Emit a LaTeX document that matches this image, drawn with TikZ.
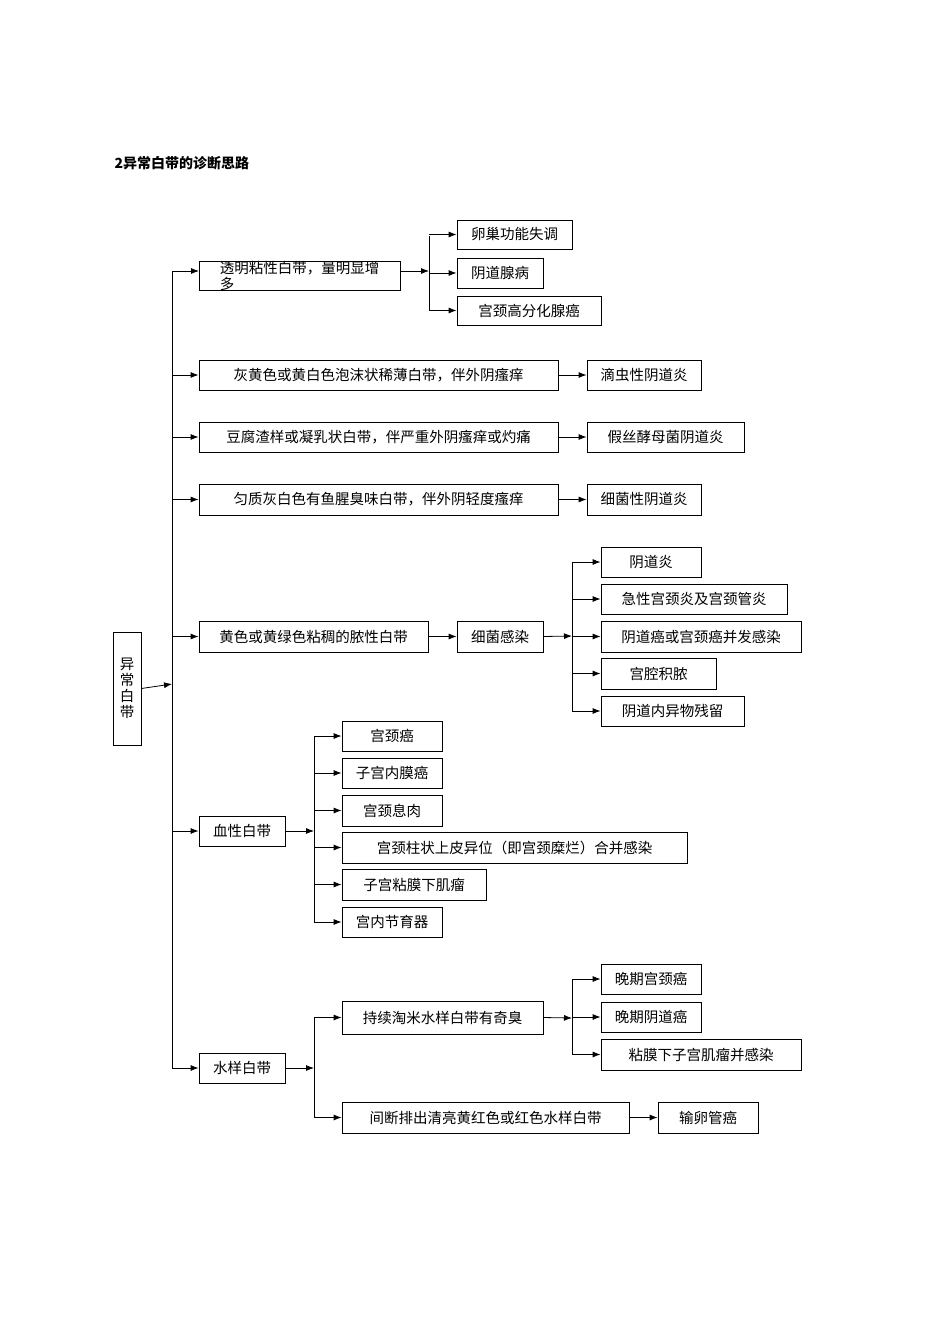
\documentclass[tikz,border=0pt]{standalone}
\usepackage{fontspec}
\newfontfamily\cjk{Noto Sans CJK SC}
\usetikzlibrary{arrows.meta}
\begin{document}
\begin{tikzpicture}[x=1pt,y=-1pt,
  box/.style={draw,line width=0.8pt,inner sep=0pt,font=\cjk\fontsize{14.5}{16}\selectfont},
  arr/.style={-{Latex[length=8pt,width=6pt]},line width=0.8pt},
  ln/.style={line width=0.8pt}]
\useasboundingbox (0,0) rectangle (950,1344);
\newcommand{\bx}[6]{\node[box,minimum width={#3-#2},minimum height={#5-#4},align=left] (#1) at ({(#2+#3)/2},{(#4+#5)/2}) {#6};}
\node[anchor=west,font=\cjk\bfseries\fontsize{14}{16}\selectfont] (title) at (111,163) {2异常白带的诊断思路};
\bx{root}{113}{141}{632}{745}{异\\常\\白\\带}
\bx{a1}{199}{400}{262}{290}{透明粘性白带，量明显增\\多}
\bx{a2}{199}{558}{360}{390}{灰黄色或黄白色泡沫状稀薄白带，伴外阴瘙痒}
\bx{a3}{199}{558}{422}{452}{豆腐渣样或凝乳状白带，伴严重外阴瘙痒或灼痛}
\bx{a4}{199}{558}{484}{515}{匀质灰白色有鱼腥臭味白带，伴外阴轻度瘙痒}
\bx{a5}{199}{428}{621}{652}{黄色或黄绿色粘稠的脓性白带}
\bx{a6}{199}{285}{816}{846}{血性白带}
\bx{a7}{199}{285}{1053}{1083}{水样白带}
\bx{b11}{457}{572}{220}{249}{卵巢功能失调}
\bx{b12}{457}{543}{258}{288}{阴道腺病}
\bx{b13}{457}{601}{296}{325}{宫颈高分化腺癌}
\bx{b2}{587}{701}{360}{390}{滴虫性阴道炎}
\bx{b3}{587}{744}{422}{452}{假丝酵母菌阴道炎}
\bx{b4}{587}{701}{484}{515}{细菌性阴道炎}
\bx{b5}{457}{543}{621}{652}{细菌感染}
\bx{c51}{601}{701}{547}{577}{阴道炎}
\bx{c52}{601}{787}{584}{614}{急性宫颈炎及宫颈管炎}
\bx{c53}{601}{801}{621}{652}{阴道癌或宫颈癌并发感染}
\bx{c54}{601}{716}{658}{689}{宫腔积脓}
\bx{c55}{601}{744}{696}{726}{阴道内异物残留}
\bx{b61}{342}{442}{721}{751}{宫颈癌}
\bx{b62}{342}{442}{758}{788}{子宫内膜癌}
\bx{b63}{342}{442}{795}{826}{宫颈息肉}
\bx{b64}{342}{687}{832}{863}{宫颈柱状上皮异位（即宫颈糜烂）合并感染}
\bx{b65}{342}{486}{869}{900}{子宫粘膜下肌瘤}
\bx{b66}{342}{442}{907}{937}{宫内节育器}
\bx{b71}{342}{543}{1001}{1034}{持续淘米水样白带有奇臭}
\bx{b72}{342}{629}{1102}{1133}{间断排出清亮黄红色或红色水样白带}
\bx{c71}{601}{701}{964}{994}{晚期宫颈癌}
\bx{c72}{601}{701}{1002}{1032}{晚期阴道癌}
\bx{c73}{601}{801}{1039}{1070}{粘膜下子宫肌瘤并感染}
\bx{d72}{658}{758}{1102}{1133}{输卵管癌}
% root trunk
\coordinate (t0) at (172,684);
\draw[arr] (root.east) -- (t0);
\draw[ln] (172,271) -- (172,1068);
\foreach \n in {a2,a3,a4,a5,a6,a7}{\draw[arr] (\n.west -| t0) -- (\n.west);}
\draw[arr] (172,271) -- (199,271);
% a1
\coordinate (t1) at (429,271);
\draw[arr] (400,271) -- (t1);
\draw[ln] (429,236) -- (429,310);
\foreach \n in {b11,b12,b13}{\draw[arr] (\n.west -| t1) -- (\n.west);}
\draw[arr] (a2) -- (b2);
\draw[arr] (a3) -- (b3);
\draw[arr] (a4) -- (b4);
\draw[arr] (a5) -- (b5);
\coordinate (t5) at (572,636);
\draw[arr] (b5.east) -- (t5);
\draw[ln] (572,562) -- (572,711);
\foreach \n in {c51,c52,c53,c54,c55}{\draw[arr] (\n.west -| t5) -- (\n.west);}
\coordinate (t6) at (314,831);
\draw[arr] (a6.east) -- (t6);
\draw[ln] (314,736) -- (314,922);
\foreach \n in {b61,b62,b63,b64,b65,b66}{\draw[arr] (\n.west -| t6) -- (\n.west);}
\coordinate (t7) at (314,1068);
\draw[arr] (a7.east) -- (t7);
\draw[ln] (314,1018) -- (314,1118);
\foreach \n in {b71,b72}{\draw[arr] (\n.west -| t7) -- (\n.west);}
\coordinate (t71) at (572,1018);
\draw[arr] (b71.east) -- (t71);
\draw[ln] (572,979) -- (572,1055);
\foreach \n in {c71,c72,c73}{\draw[arr] (\n.west -| t71) -- (\n.west);}
\draw[arr] (b72) -- (d72);
\end{tikzpicture}
\end{document}
